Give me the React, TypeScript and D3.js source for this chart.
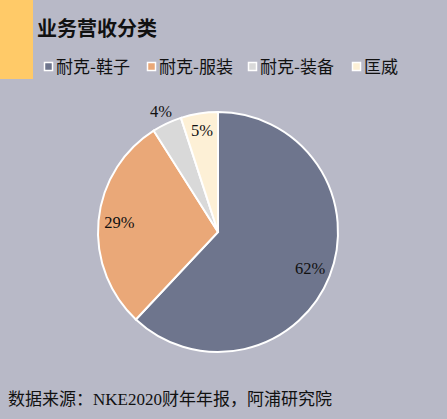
import React from "react";
import * as d3 from "d3";

const categories = ["耐克-鞋子", "耐克-服装", "耐克-装备", "匡威"];
const values = [62, 29, 4, 5];
const colors = ["#6e758d", "#eaa878", "#d9d9d9", "#fdf0d6"];
const labelRadius = [99, 99, 134, 103];

const W = 447;
const H = 419;
const cx = 218;
const cy = 232;
const R = 120;

export default function App() {
  const pie = d3.pie<number>().sort(null).value((d) => d)(values);
  const arc = d3.arc<d3.PieArcDatum<number>>().innerRadius(0).outerRadius(R);
  const legendX = [44, 147, 248, 352];
  return (
    <svg width={W} height={H} style={{ position: "absolute", left: 0, top: 0 }}>
      <rect x={0} y={0} width={W} height={H} fill="#b8b9c7" />
      <rect x={0} y={0} width={33} height={79} fill="#ffca68" />
      <text x={37} y={36} fontSize={20} fontWeight="bold" fontFamily="'Noto Sans CJK SC', sans-serif" fill="#111">
        业务营收分类
      </text>
      {categories.map((c, i) => (
        <g key={c}>
          <rect x={legendX[i] + 0.5} y={62.5} width={8} height={8} fill={colors[i]} stroke="#fff" strokeWidth={1.5} />
          <text x={legendX[i] + 12} y={73} fontSize={17} fontFamily="'Noto Sans CJK SC', sans-serif" fill="#111">
            {c}
          </text>
        </g>
      ))}
      <g transform={`translate(${cx},${cy})`}>
        {pie.map((p, i) => (
          <path key={i} d={arc(p) || ""} fill={colors[i]} stroke="#fff" strokeWidth={2} />
        ))}
        {pie.map((p, i) => {
          const a = (p.startAngle + p.endAngle) / 2;
          const r = labelRadius[i];
          const x = Math.sin(a) * r;
          const y = -Math.cos(a) * r;
          return (
            <text key={"l" + i} x={x} y={y} dy="0.35em" textAnchor="middle" fontSize={16.5} fontFamily="'Liberation Serif', serif" fill="#111">
              {values[i]}%
            </text>
          );
        })}
      </g>
      <text x={8} y={405} fontSize={17} fontFamily="'Liberation Serif', 'Noto Sans CJK SC', serif" fill="#111">
        数据来源：NKE2020财年年报，阿浦研究院
      </text>
    </svg>
  );
}
